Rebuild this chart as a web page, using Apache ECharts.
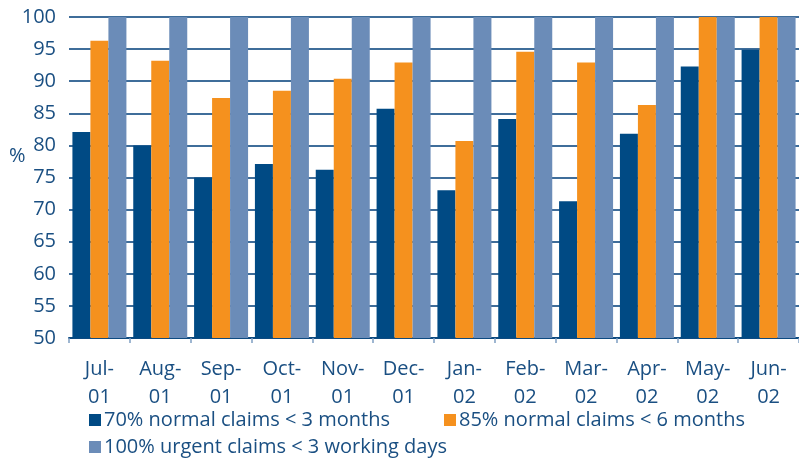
<!DOCTYPE html>
<html>
<head>
<meta charset="utf-8">
<script src="https://cdn.jsdelivr.net/npm/echarts@6/dist/echarts.min.js"></script>
<style>
  html, body { margin: 0; padding: 0; background: #fff; }
  #chart { width: 799px; height: 460px; }
</style>
</head>
<body>
<div id="chart"></div>
<script>
// data
const months = ["Jul-\n01", "Aug-\n01", "Sep-\n01", "Oct-\n01", "Nov-\n01", "Dec-\n01",
                "Jan-\n02", "Feb-\n02", "Mar-\n02", "Apr-\n02", "May-\n02", "Jun-\n02"];
const seriesNames = [
  "70% normal claims < 3 months",
  "85% normal claims < 6 months",
  "100% urgent claims < 3 working days"
];
const normal3m = [82.1, 80.0, 75.0, 77.1, 76.2, 85.7, 73.0, 84.1, 71.3, 81.8, 92.3, 94.9];
const normal6m = [96.3, 93.2, 87.4, 88.5, 90.4, 92.9, 80.7, 94.6, 92.9, 86.3, 100, 100];
const urgent3d = [100, 100, 100, 100, 100, 100, 100, 100, 100, 100, 100, 100];
const yTicks = { min: 50, max: 100, interval: 5 };

const textColor = "#1a4f82";
const barColors = ["#004a84", "#f5911e", "#6b8cb8"];
const fontFamily = "Open Sans";

const chart = echarts.init(document.getElementById("chart"));

function legendAt(name, left, top) {
  return {
    data: [name],
    left: left,
    top: top,
    itemWidth: 12,
    itemHeight: 12,
    itemGap: 5,
    icon: "rect",
    textStyle: { color: textColor, fontSize: 20, fontFamily: fontFamily, padding: [0, 0, 0, -2] }
  };
}

const option = {
  animation: false,
  grid: { left: 69, top: 17, width: 732, bottom: 122, containLabel: false },
  legend: [
    legendAt(seriesNames[0], 84, 405),
    legendAt(seriesNames[1], 439, 405),
    legendAt(seriesNames[2], 84, 432)
  ],
  graphic: [{
    type: "text",
    left: 9,
    top: 146,
    style: { text: "%", fill: textColor, font: "20px " + fontFamily }
  }],
  xAxis: {
    type: "category",
    data: months,
    axisLine: { show: true, lineStyle: { color: "#0d4a80", width: 2 } },
    axisTick: { show: true, length: 5, lineStyle: { color: "#7f9fc2", width: 1.5 } },
    axisLabel: {
      color: textColor,
      fontSize: 20,
      fontFamily: fontFamily,
      lineHeight: 28,
      margin: 17,
      interval: 0
    }
  },
  yAxis: {
    type: "value",
    min: yTicks.min,
    max: yTicks.max,
    interval: yTicks.interval,
    axisLine: { show: false },
    axisTick: { show: false },
    axisLabel: { color: textColor, fontSize: 20, fontFamily: fontFamily, margin: 13 },
    splitLine: { show: true, lineStyle: { color: "#3f6d9a", width: 2 } }
  },
  series: [normal3m, normal6m, urgent3d].map((d, i) => ({
    name: seriesNames[i],
    type: "bar",
    data: d,
    barWidth: 18,
    barGap: "0%",
    itemStyle: { color: barColors[i] }
  }))
};

chart.setOption(option);
</script>
</body>
</html>
